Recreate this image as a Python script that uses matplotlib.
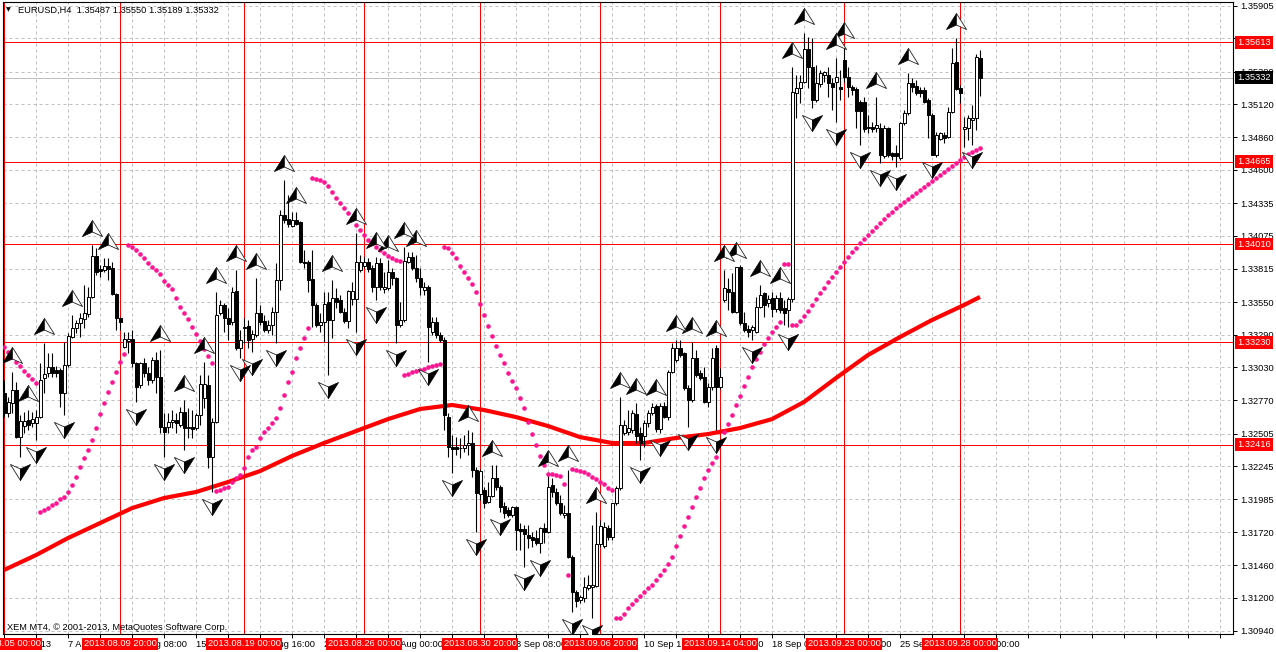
import matplotlib
matplotlib.use("Agg")
import matplotlib.pyplot as plt
import matplotlib.transforms as mtrans
from matplotlib.path import Path

# ---- data (bar 0 = 2013.08.05 00:00) ----
opens = [
    1.32827, 1.32668, 1.32748, 1.32851, 1.32477, 1.32565, 1.32613, 1.32589, 1.32589, 1.32636,
    1.32946, 1.32986, 1.33034, 1.33010, 1.33010, 1.32827, 1.33049, 1.33272, 1.33343, 1.33383,
    1.33415, 1.33455, 1.33590, 1.33915, 1.33812, 1.33804, 1.33836, 1.33820, 1.33613, 1.33423,
    1.33192, 1.33240, 1.33256, 1.33065, 1.32891, 1.33065, 1.32986, 1.32930, 1.33089, 1.32954,
    1.32557, 1.32557, 1.32597, 1.32613, 1.32573, 1.32676, 1.32549, 1.32557, 1.32549, 1.32652,
    1.32787, 1.32891, 1.32319, 1.32597, 1.33463, 1.33526, 1.33423, 1.33391, 1.33637, 1.33184,
    1.33343, 1.33359, 1.33256, 1.33288, 1.33463, 1.33399, 1.33327, 1.33367, 1.33470, 1.33725,
    1.34241, 1.34209, 1.34154, 1.34201, 1.34185, 1.33868, 1.33868, 1.33733, 1.33526, 1.33367,
    1.33391, 1.33550, 1.33407, 1.33582, 1.33566, 1.33470, 1.33399, 1.33574, 1.33574, 1.33804,
    1.33836, 1.33868, 1.33820, 1.33669, 1.33860, 1.33653, 1.33661, 1.33788, 1.33741, 1.33367,
    1.33407, 1.33868, 1.33907, 1.33820, 1.33741, 1.33645, 1.33669, 1.33312, 1.33391, 1.33288,
    1.33248, 1.32636, 1.32398, 1.32398, 1.32390, 1.32390, 1.32414, 1.32430, 1.32215, 1.32025,
    1.32056, 1.31961, 1.32009, 1.32152, 1.32080, 1.31929, 1.31898, 1.31858, 1.31921, 1.31747,
    1.31747, 1.31699, 1.31683, 1.31675, 1.31635, 1.31755, 1.31723, 1.32096, 1.32041, 1.31953,
    1.31858, 1.31874, 1.31524, 1.31246, 1.31183, 1.31198, 1.31278, 1.31286, 1.31294, 1.31627,
    1.31612, 1.31755, 1.31683, 1.31953, 1.32072, 1.32509, 1.32517, 1.32533, 1.32660, 1.32509,
    1.32485, 1.32589, 1.32668, 1.32724, 1.32541, 1.32724, 1.32636, 1.32994, 1.33089, 1.33184,
    1.33145, 1.32867, 1.32771, 1.33105, 1.32986, 1.32954, 1.32756, 1.32875, 1.33184, 1.32875,
    1.33566, 1.33653, 1.33629, 1.33470, 1.33828, 1.33383, 1.33335, 1.33327, 1.33312, 1.33510,
    1.33621, 1.33542, 1.33582, 1.33494, 1.33582, 1.33502, 1.33486, 1.33574, 1.35210, 1.35250,
    1.35298, 1.35560, 1.35417, 1.35155, 1.35282, 1.35353, 1.35353, 1.35290, 1.35298, 1.35258,
    1.35472, 1.35337, 1.35258, 1.35242, 1.35139, 1.35139, 1.34940, 1.34940, 1.34932, 1.34932,
    1.34710, 1.34932, 1.34734, 1.34734, 1.34694, 1.34972, 1.35051, 1.35290, 1.35266, 1.35234,
    1.35234, 1.35155, 1.35035, 1.34718, 1.34845, 1.34877, 1.34861, 1.35059, 1.35456, 1.35250,
    1.34924, 1.34932, 1.34996, 1.35012, 1.35487,
]
highs = [
    1.32930, 1.32795, 1.32994, 1.32914, 1.32652, 1.32676, 1.32692, 1.32676, 1.32692, 1.33065,
    1.33224, 1.33145, 1.33145, 1.33041, 1.33026, 1.33232, 1.33304, 1.33447, 1.33407, 1.33463,
    1.33685, 1.33669, 1.34003, 1.33979, 1.33844, 1.33899, 1.33899, 1.33868, 1.33621, 1.33431,
    1.33312, 1.33312, 1.33327, 1.33073, 1.33073, 1.33105, 1.33034, 1.33113, 1.33153, 1.33169,
    1.32668, 1.32668, 1.32692, 1.32668, 1.32716, 1.32771, 1.32708, 1.32692, 1.32668, 1.32970,
    1.33073, 1.32970, 1.32628, 1.33629, 1.33566, 1.33542, 1.33502, 1.33669, 1.33804, 1.33327,
    1.33423, 1.33407, 1.33327, 1.33741, 1.33526, 1.33447, 1.33407, 1.33510, 1.33860, 1.34281,
    1.34519, 1.34400, 1.34265, 1.34265, 1.34193, 1.33963, 1.33884, 1.33963, 1.33542, 1.33463,
    1.33629, 1.33629, 1.33725, 1.33661, 1.33606, 1.33502, 1.33645, 1.33709, 1.34098, 1.33923,
    1.33907, 1.33899, 1.33844, 1.33907, 1.33899, 1.33788, 1.33884, 1.33820, 1.33749, 1.33550,
    1.33987, 1.33947, 1.33947, 1.33923, 1.33820, 1.33709, 1.33685, 1.33431, 1.33431, 1.33312,
    1.33272, 1.32668, 1.32493, 1.32477, 1.32470, 1.32493, 1.32533, 1.32517, 1.32239, 1.32223,
    1.32080, 1.32120, 1.32255, 1.32255, 1.32096, 1.31961, 1.31921, 1.31929, 1.31929, 1.31794,
    1.31778, 1.31778, 1.31723, 1.31739, 1.31763, 1.31794, 1.32176, 1.32152, 1.32072, 1.32017,
    1.31937, 1.32215, 1.31540, 1.31262, 1.31222, 1.31365, 1.31381, 1.31778, 1.31882, 1.31818,
    1.31802, 1.31778, 1.31953, 1.32088, 1.32795, 1.32613, 1.32692, 1.32692, 1.32748, 1.32557,
    1.32613, 1.32692, 1.32748, 1.32740, 1.32748, 1.32756, 1.33010, 1.33224, 1.33248, 1.33248,
    1.33153, 1.32891, 1.33232, 1.33169, 1.33010, 1.33034, 1.32906, 1.33184, 1.33208, 1.33026,
    1.33804, 1.33741, 1.33780, 1.33828, 1.33844, 1.33470, 1.33367, 1.33367, 1.33590, 1.33685,
    1.33629, 1.33606, 1.33629, 1.33606, 1.33629, 1.33566, 1.33590, 1.35417, 1.35353, 1.35353,
    1.35687, 1.35655, 1.35647, 1.35433, 1.35393, 1.35385, 1.35417, 1.35329, 1.35488, 1.35393,
    1.35576, 1.35417, 1.35274, 1.35258, 1.35155, 1.35178, 1.35035, 1.34980, 1.35178, 1.34972,
    1.34956, 1.34940, 1.34742, 1.34797, 1.34980, 1.35075, 1.35369, 1.35329, 1.35313, 1.35258,
    1.35258, 1.35170, 1.35051, 1.34900, 1.34900, 1.34900, 1.35099, 1.35568, 1.35647, 1.35274,
    1.35020, 1.35035, 1.35115, 1.35520, 1.35550,
]
lows = [
    1.32636, 1.32636, 1.32668, 1.32470, 1.32319, 1.32509, 1.32533, 1.32557, 1.32454, 1.32628,
    1.32827, 1.32954, 1.32954, 1.32954, 1.32716, 1.32652, 1.33034, 1.33264, 1.33304, 1.33272,
    1.33343, 1.33431, 1.33582, 1.33764, 1.33749, 1.33788, 1.33725, 1.33606, 1.33327, 1.33327,
    1.33184, 1.33145, 1.33034, 1.32756, 1.32867, 1.32954, 1.32891, 1.32906, 1.32827, 1.32509,
    1.32319, 1.32509, 1.32549, 1.32509, 1.32557, 1.32374, 1.32470, 1.32470, 1.32533, 1.32573,
    1.32708, 1.32231, 1.32041, 1.32589, 1.33447, 1.33312, 1.33248, 1.33367, 1.33169, 1.33105,
    1.33224, 1.33184, 1.33153, 1.33272, 1.33367, 1.33312, 1.33304, 1.33288, 1.33224, 1.33645,
    1.34177, 1.34146, 1.34146, 1.34162, 1.33860, 1.33820, 1.33629, 1.33351, 1.33351, 1.33312,
    1.33232, 1.32970, 1.33264, 1.33502, 1.33463, 1.33383, 1.33343, 1.33526, 1.33312, 1.33788,
    1.33820, 1.33788, 1.33629, 1.33566, 1.33645, 1.33621, 1.33645, 1.33685, 1.33224, 1.33351,
    1.33391, 1.33860, 1.33804, 1.33709, 1.33606, 1.33606, 1.33073, 1.33288, 1.33264, 1.33232,
    1.32533, 1.32319, 1.32191, 1.32334, 1.32311, 1.32358, 1.32334, 1.32160, 1.31723, 1.31977,
    1.31913, 1.31953, 1.32001, 1.32056, 1.31882, 1.31834, 1.31842, 1.31842, 1.31580, 1.31580,
    1.31445, 1.31596, 1.31604, 1.31620, 1.31556, 1.31635, 1.31715, 1.32001, 1.31937, 1.31858,
    1.31834, 1.31516, 1.31087, 1.31127, 1.31159, 1.31167, 1.31262, 1.31040, 1.31286, 1.31604,
    1.31596, 1.31659, 1.31659, 1.31937, 1.32056, 1.32493, 1.32493, 1.32509, 1.32430, 1.32295,
    1.32398, 1.32557, 1.32652, 1.32517, 1.32509, 1.32628, 1.32613, 1.32986, 1.33073, 1.33113,
    1.32851, 1.32557, 1.32756, 1.32954, 1.32930, 1.32748, 1.32716, 1.32851, 1.32533, 1.32859,
    1.33550, 1.33486, 1.33463, 1.33463, 1.33367, 1.33312, 1.33272, 1.33248, 1.33304, 1.33502,
    1.33431, 1.33510, 1.33431, 1.33470, 1.33463, 1.33367, 1.33351, 1.33550, 1.35012, 1.35131,
    1.35290, 1.35250, 1.35091, 1.35139, 1.35258, 1.35298, 1.35178, 1.35075, 1.34980, 1.35155,
    1.35298, 1.35178, 1.35194, 1.34932, 1.34797, 1.34900, 1.34892, 1.34900, 1.34900, 1.34654,
    1.34694, 1.34702, 1.34678, 1.34622, 1.34678, 1.34956, 1.35035, 1.35218, 1.35194, 1.35178,
    1.35131, 1.34853, 1.34718, 1.34702, 1.34837, 1.34813, 1.34853, 1.35051, 1.35234, 1.35131,
    1.34781, 1.34837, 1.34797, 1.34916, 1.35189,
]
closes = [
    1.32668, 1.32756, 1.32851, 1.32477, 1.32605, 1.32605, 1.32573, 1.32620, 1.32636, 1.32930,
    1.32978, 1.33034, 1.32986, 1.32986, 1.32827, 1.33049, 1.33280, 1.33343, 1.33383, 1.33423,
    1.33463, 1.33590, 1.33915, 1.33788, 1.33796, 1.33836, 1.33812, 1.33613, 1.33423, 1.33391,
    1.33256, 1.33256, 1.33065, 1.32875, 1.33065, 1.32986, 1.32930, 1.33089, 1.32954, 1.32557,
    1.32517, 1.32597, 1.32613, 1.32589, 1.32676, 1.32549, 1.32557, 1.32541, 1.32652, 1.32899,
    1.32899, 1.32319, 1.32597, 1.33447, 1.33526, 1.33423, 1.33375, 1.33629, 1.33184, 1.33248,
    1.33351, 1.33248, 1.33296, 1.33463, 1.33391, 1.33327, 1.33367, 1.33470, 1.33725, 1.34241,
    1.34201, 1.34170, 1.34201, 1.34170, 1.33868, 1.33860, 1.33725, 1.33526, 1.33367, 1.33391,
    1.33534, 1.33407, 1.33582, 1.33550, 1.33470, 1.33399, 1.33637, 1.33637, 1.33868, 1.33868,
    1.33868, 1.33812, 1.33669, 1.33860, 1.33669, 1.33669, 1.33788, 1.33741, 1.33367, 1.33407,
    1.33876, 1.33907, 1.33820, 1.33741, 1.33669, 1.33669, 1.33351, 1.33391, 1.33288, 1.33248,
    1.32652, 1.32398, 1.32382, 1.32382, 1.32390, 1.32414, 1.32430, 1.32215, 1.32033, 1.32207,
    1.31953, 1.32009, 1.32152, 1.32080, 1.31921, 1.31874, 1.31858, 1.31921, 1.31739, 1.31731,
    1.31707, 1.31675, 1.31659, 1.31635, 1.31755, 1.31723, 1.32080, 1.32041, 1.31953, 1.31874,
    1.31874, 1.31524, 1.31246, 1.31175, 1.31206, 1.31286, 1.31302, 1.31302, 1.31627, 1.31770,
    1.31763, 1.31683, 1.31953, 1.32072, 1.32573, 1.32573, 1.32549, 1.32668, 1.32485, 1.32430,
    1.32589, 1.32668, 1.32716, 1.32541, 1.32724, 1.32636, 1.32994, 1.33184, 1.33184, 1.33129,
    1.32867, 1.32771, 1.33105, 1.32970, 1.32946, 1.32756, 1.32875, 1.33105, 1.32875, 1.32954,
    1.33661, 1.33629, 1.33470, 1.33828, 1.33383, 1.33327, 1.33312, 1.33351, 1.33510, 1.33606,
    1.33526, 1.33574, 1.33494, 1.33582, 1.33486, 1.33463, 1.33574, 1.35218, 1.35250, 1.35298,
    1.35560, 1.35417, 1.35155, 1.35290, 1.35369, 1.35377, 1.35290, 1.35258, 1.35337, 1.35242,
    1.35337, 1.35258, 1.35234, 1.35067, 1.35067, 1.34924, 1.34932, 1.34924, 1.34956, 1.34718,
    1.34932, 1.34718, 1.34710, 1.34710, 1.34972, 1.35051, 1.35290, 1.35258, 1.35210, 1.35210,
    1.35139, 1.35035, 1.34718, 1.34877, 1.34892, 1.34853, 1.35059, 1.35449, 1.35242, 1.35210,
    1.34940, 1.35012, 1.35012, 1.35496, 1.35332,
]

# Parabolic SAR dots, one per bar
sar = [
    1.33192, 1.33153, 1.33113, 1.33073, 1.33041, 1.33002, 1.32970, 1.32938, 1.32906,
    1.31882, 1.31898, 1.31913, 1.31937, 1.31953, 1.31985, 1.32001, 1.32041, 1.32096, 1.32160,
    1.32239, 1.32311, 1.32374, 1.32454, 1.32549, 1.32660, 1.32748, 1.32835, 1.32914, 1.32994,
    1.33073, 1.33137,
    1.34003, 1.33987, 1.33963, 1.33931, 1.33899, 1.33860, 1.33828, 1.33804, 1.33772, 1.33717,
    1.33685, 1.33653, 1.33582, 1.33510, 1.33463, 1.33415, 1.33351, 1.33296, 1.33240, 1.33177,
    1.33121, 1.33065,
    1.32048, 1.32056, 1.32072, 1.32080, 1.32120, 1.32152, 1.32176, 1.32231, 1.32319, 1.32374,
    1.32398, 1.32470, 1.32517, 1.32549, 1.32589, 1.32628, 1.32708, 1.32811, 1.32914, 1.32994,
    1.33105, 1.33184, 1.33264, 1.33343,
    1.34535, 1.34527, 1.34519, 1.34503, 1.34471, 1.34424, 1.34376, 1.34336, 1.34297, 1.34257,
    1.34217, 1.34162, 1.34122, 1.34082, 1.34042, 1.34019, 1.33987, 1.33963, 1.33939, 1.33915,
    1.33899, 1.33884, 1.33876,
    1.32970, 1.32978, 1.32994, 1.33002, 1.33010, 1.33018, 1.33034, 1.33041, 1.33049, 1.33057,
    1.33987, 1.33979, 1.33939, 1.33899, 1.33836, 1.33788, 1.33741, 1.33693, 1.33629, 1.33534,
    1.33447, 1.33359, 1.33280, 1.33200, 1.33129, 1.33065, 1.32986, 1.32922, 1.32867, 1.32787,
    1.32708, 1.32597, 1.32501, 1.32414, 1.32327, 1.32255, 1.32184, 1.32184, 1.32176, 1.32168,
    1.32104,
    1.31381,
    1.32223, 1.32215, 1.32207, 1.32199, 1.32184, 1.32160, 1.32144, 1.32120, 1.32104, 1.32072,
    1.32056,
    1.31040, 1.31040, 1.31071, 1.31119, 1.31151, 1.31183, 1.31214, 1.31246, 1.31278, 1.31302,
    1.31341, 1.31381, 1.31421, 1.31469, 1.31524, 1.31612, 1.31691, 1.31770, 1.31842, 1.31921,
    1.32001, 1.32072, 1.32152, 1.32215, 1.32271, 1.32319, 1.32430, 1.32517, 1.32581, 1.32652,
    1.32732, 1.32803, 1.32883, 1.32954, 1.33034, 1.33097, 1.33153, 1.33216, 1.33264, 1.33312,
    1.33351, 1.33391,
    1.33852, 1.33852,
    1.33367, 1.33367, 1.33399, 1.33439, 1.33478, 1.33526, 1.33574, 1.33621, 1.33661, 1.33709,
    1.33749, 1.33788, 1.33828, 1.33868, 1.33907, 1.33947, 1.33979, 1.34019, 1.34050, 1.34082,
    1.34114, 1.34146, 1.34177, 1.34209, 1.34241, 1.34265, 1.34297, 1.34320, 1.34344, 1.34368,
    1.34392, 1.34416, 1.34440, 1.34463, 1.34487, 1.34511, 1.34535, 1.34559, 1.34583, 1.34606,
    1.34630, 1.34654, 1.34678, 1.34702, 1.34726, 1.34742, 1.34757, 1.34773,
]

# slow moving average (thick red line), read every 8 bars
ma_bars = [0, 8, 16, 24, 32, 40, 48, 56, 64, 72, 80, 88, 96, 104, 112, 120, 128, 136, 144,
           152, 160, 168, 176, 184, 192, 200, 208, 216, 224, 232, 240, 244]
ma_vals = [1.31421, 1.31540, 1.31675, 1.31794, 1.31913, 1.31993, 1.32041, 1.32120, 1.32207,
           1.32327, 1.32430, 1.32525, 1.32620, 1.32700, 1.32732, 1.32692, 1.32636, 1.32565,
           1.32477, 1.32430, 1.32430, 1.32470, 1.32501, 1.32549, 1.32620, 1.32756, 1.32946,
           1.33129, 1.33272, 1.33407, 1.33526, 1.33590]

# fractal arrows
up_bars = [2, 6, 10, 17, 22, 26, 39, 45, 50, 53, 58, 63, 70, 73, 82, 88, 93, 96, 100, 103,
           116, 122, 136, 141, 148, 154, 158, 163, 168, 172, 178, 180, 183, 189, 194, 197,
           200, 208, 210, 218, 226, 238]
down_bars = [4, 8, 15, 33, 40, 45, 52, 59, 62, 68, 81, 88, 93, 98, 106, 112, 118, 124, 130,
             134, 142, 147, 159, 164, 171, 178, 187, 196, 202, 208, 214, 219, 223, 232, 242]

# horizontal / vertical objects
hline_levels = [1.35613, 1.34665, 1.34010, 1.33230, 1.32416]
bid_price = 1.35332
vline_bars = [0, 29, 60, 90, 119, 149, 179, 210, 239]
vline_labels = ["2013.08.05 00:00", "2013.08.09 20:00", "2013.08.19 00:00", "2013.08.26 00:00",
                "2013.08.30 20:00", "2013.09.06 20:00", "2013.09.14 04:00", "2013.09.23 00:00",
                "2013.09.28 00:00"]

price_ticks = [1.30940, 1.31200, 1.31460, 1.31720, 1.31985, 1.32245, 1.32505, 1.32770, 1.33030,
               1.33290, 1.33550, 1.33815, 1.34075, 1.34335, 1.34600, 1.34860, 1.35120, 1.35380,
               1.35645, 1.35905]
time_labels = ["5 Aug 2013", "7 Aug 16:00", "12 Aug 08:00", "15 Aug 00:00", "19 Aug 16:00",
               "22 Aug 08:00", "27 Aug 00:00", "29 Aug 16:00", "3 Sep 08:00", "6 Sep 00:00",
               "10 Sep 16:00", "13 Sep 08:00", "18 Sep 00:00", "20 Sep 16:00", "25 Sep 08:00",
               "30 Sep 00:00"]

title = "EURUSD,H4  1.35487 1.35550 1.35189 1.35332"
footer = "XEM MT4, \u00a9 2001-2013, MetaQuotes Software Corp."

# ---- drawing ----
W, H = 1276, 652
FS = 6.7
plt.rcParams["font.family"] = ["Liberation Sans", "DejaVu Sans"]

fig = plt.figure(figsize=(W / 100, H / 100), dpi=100)
ax = fig.add_axes([3 / W, 18 / H, 1230 / W, 632 / H])
ax.set_xlim(-0.25, 307.25)
ax.set_ylim(1.30913, 1.35933)

bars = list(range(len(opens)))

# grid
ax.set_axisbelow(True)
ax.set_yticks(price_ticks)
ax.set_yticklabels([f"{p:.5f}" for p in price_ticks])
grid_bars = list(range(0, 305, 8))
ax.set_xticks(grid_bars)
xlabels = []
for b in grid_bars:
    k = b // 16
    xlabels.append(time_labels[k] if b % 16 == 0 and k < len(time_labels) else "")
ax.set_xticklabels(xlabels)
ax.grid(True, color="#c0c0c0", linestyle=(0, (3, 3)), linewidth=0.72)
ax.yaxis.tick_right()
ax.tick_params(axis="y", length=3, width=0.72, pad=2.5, labelsize=FS)
ax.tick_params(axis="x", length=3, width=0.72, pad=1.5, labelsize=FS)
for lbl in ax.get_xticklabels():
    lbl.set_horizontalalignment("left")
for sp in ax.spines.values():
    sp.set_linewidth(0.8)
    sp.set_color("black")

# chart objects
for lvl in hline_levels:
    ax.axhline(lvl, color="red", linewidth=0.72, zorder=1.5)
ax.axhline(bid_price, color="#c0c0c0", linewidth=0.72, zorder=1.4)
for b in vline_bars:
    ax.axvline(b, color="red", linewidth=0.72, zorder=1.5)

# moving average
ax.plot(ma_bars, ma_vals, color="red", linewidth=3.0, zorder=2, solid_capstyle="butt",
        solid_joinstyle="round")

# candles
ax.vlines(bars, lows, highs, color="black", linewidth=0.8, zorder=3)
body_bottom = [min(o, c) for o, c in zip(opens, closes)]
body_height = [abs(c - o) for o, c in zip(opens, closes)]
body_color = ["white" if c > o else "black" for o, c in zip(opens, closes)]
ax.bar(bars, body_height, bottom=body_bottom, width=0.75, color=body_color,
       edgecolor="black", linewidth=0.7, zorder=4)

# parabolic SAR
ax.plot(bars, sar, linestyle="none", marker="o", markersize=3.3, markeredgewidth=0,
        color="#ff1493", zorder=5)

# fractal arrows
up_left = Path([(0, 0.8), (-1, -0.8), (0, -0.35), (0, 0.8)],
               [Path.MOVETO, Path.LINETO, Path.LINETO, Path.CLOSEPOLY])
up_right = Path([(0, 0.8), (0, -0.35), (1, -0.8), (0, 0.8)],
                [Path.MOVETO, Path.LINETO, Path.LINETO, Path.CLOSEPOLY])
dn_left = Path([(0, -0.8), (-1, 0.8), (0, 0.35), (0, -0.8)],
               [Path.MOVETO, Path.LINETO, Path.LINETO, Path.CLOSEPOLY])
dn_right = Path([(0, -0.8), (0, 0.35), (1, 0.8), (0, -0.8)],
                [Path.MOVETO, Path.LINETO, Path.LINETO, Path.CLOSEPOLY])

up_tr = mtrans.offset_copy(ax.transData, fig=fig, x=0, y=12, units="points")
dn_tr = mtrans.offset_copy(ax.transData, fig=fig, x=0, y=-10.5, units="points")
up_y = [highs[b] for b in up_bars]
dn_y = [lows[b] for b in down_bars]
ax.plot(up_bars, up_y, linestyle="none", marker=up_left, markersize=14.5, mfc="black",
        mec="black", mew=0.5, transform=up_tr, zorder=6)
ax.plot(up_bars, up_y, linestyle="none", marker=up_right, markersize=14.5, mfc="white",
        mec="#222222", mew=0.6, transform=up_tr, zorder=6)
ax.plot(down_bars, dn_y, linestyle="none", marker=dn_left, markersize=14.5, mfc="white",
        mec="#222222", mew=0.6, transform=dn_tr, zorder=6)
ax.plot(down_bars, dn_y, linestyle="none", marker=dn_right, markersize=14.5, mfc="black",
        mec="black", mew=0.5, transform=dn_tr, zorder=6)

# price labels on the right axis
for lvl in hline_levels:
    ax.annotate(f"{lvl:.5f}", xy=(1, lvl), xycoords=("axes fraction", "data"),
                xytext=(3, 0), textcoords="offset points", ha="left", va="center",
                fontsize=FS, color="white", annotation_clip=False, zorder=10,
                bbox=dict(boxstyle="square,pad=0.2", fc="red", ec="none"))
ax.annotate(f"{bid_price:.5f}", xy=(1, bid_price), xycoords=("axes fraction", "data"),
            xytext=(3, 0), textcoords="offset points", ha="left", va="center",
            fontsize=FS, color="white", annotation_clip=False, zorder=10,
            bbox=dict(boxstyle="square,pad=0.2", fc="black", ec="none"))

# time labels of the vertical lines
for b, lab in zip(vline_bars, vline_labels):
    ax.annotate(lab, xy=(b, 0), xycoords=("data", "axes fraction"), xytext=(0, -7.2),
                textcoords="offset points", ha="center", va="center", fontsize=FS,
                color="white", annotation_clip=False, zorder=10,
                bbox=dict(boxstyle="square,pad=0.2", fc="red", ec="none"))

fig.text(8 / W, 1 - 10 / H, "\u25bc", fontsize=4.5, ha="center", va="center",
         family="DejaVu Sans")
fig.text(18 / W, 1 - 10 / H, title, fontsize=FS, ha="left", va="center")
fig.text(7 / W, 1 - 627 / H, footer, fontsize=FS, ha="left", va="center")

fig.savefig("out.png", dpi=100)
